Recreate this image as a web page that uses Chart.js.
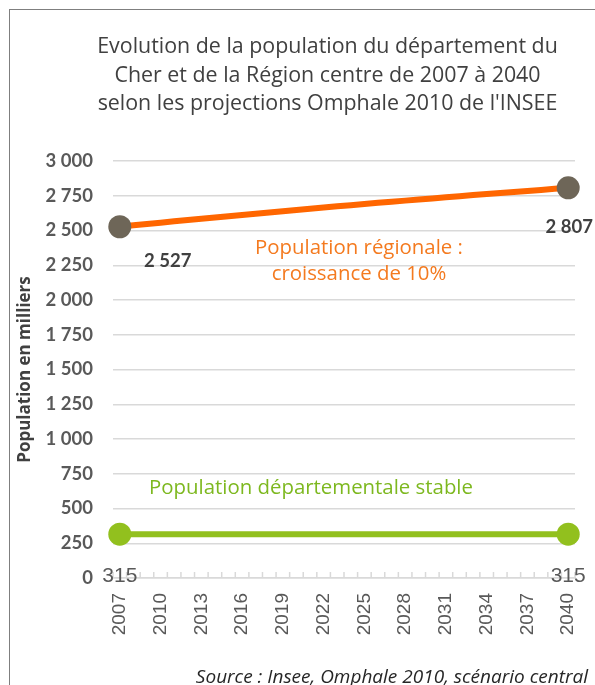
<!DOCTYPE html>
<html lang="fr">
<head>
<meta charset="utf-8">
<script src="https://cdn.jsdelivr.net/npm/chart.js@4.4.1/dist/chart.umd.min.js"></script>
<style>
  html, body { margin: 0; padding: 0; background: #fff; }
  #wrap { position: relative; width: 595px; height: 685px; overflow: hidden; }
  #frame { position: absolute; left: 9px; top: 9px; right: -5px; bottom: -5px;
           border-top: 1px solid #7f7f7f; border-left: 1px solid #7f7f7f; }
  canvas { position: absolute; left: 0; top: 0; }
  .txt { position: absolute; white-space: nowrap; font-family: "Open Sans", Lato, sans-serif; }
  #title { left: 60px; width: 535px; top: 31px; text-align: center; font-size: 21.4px; line-height: 28.5px; color: #404040; }
  #ann1 { left: 209px; width: 300px; top: 233px; text-align: center; font-size: 20.4px; line-height: 26px; color: #f47a1f; }
  #ann2 { left: 111px; width: 400px; top: 473px; text-align: center; font-size: 20.4px; line-height: 26px; color: #7db81f; }
  #source { right: 7px; top: 666px; font-size: 19px; line-height: 20px; font-style: italic; color: #262626; }
</style>
</head>
<body>
<div id="wrap">
  <div id="frame"></div>
  <canvas id="c" width="595" height="685"></canvas>
  <div class="txt" id="title">Evolution de la population du département du<br>Cher et de la Région centre de 2007 à 2040<br>selon les projections Omphale 2010 de l'INSEE</div>
  <div class="txt" id="ann1">Population régionale :<br>croissance de 10%</div>
  <div class="txt" id="ann2">Population départementale stable</div>
  <div class="txt" id="source">Source : Insee, Omphale 2010, scénario central</div>
</div>
<script>
const years = ["2007","2008","2009","2010","2011","2012","2013","2014","2015","2016","2017",
  "2018","2019","2020","2021","2022","2023","2024","2025","2026","2027","2028","2029",
  "2030","2031","2032","2033","2034","2035","2036","2037","2038","2039","2040"];
const regionValues = [2527,2537,2547,2556,2566,2575,2584,2593,2602,2611,2620,
  2630,2639,2648,2656,2665,2674,2682,2690,2699,2707,2715,2723,
  2731,2739,2747,2755,2762,2770,2777,2785,2792,2800,2807];
const departmentValues = [315,315,315,315,315,315,315,315,315,315,315,
  315,315,315,315,315,315,315,315,315,315,315,315,
  315,315,315,315,315,315,315,315,315,315,315];
const yAxisTitle = "Population en milliers";
const regionLabel = "Population régionale";
const departmentLabel = "Population départementale";

function fmt(v) { return String(v).replace(/\B(?=(\d{3})+(?!\d))/g, ' '); }
const lastIdx = years.length - 1;
const endRadius = ctx => (ctx.dataIndex === 0 || ctx.dataIndex === lastIdx) ? 11.5 : 0;
const boldFont = 'bold 18.5px Lato, sans-serif';

const tickMarks = {
  id: 'tickMarks',
  afterDatasetsDraw(chart) {
    const xs = chart.scales.x, ctx = chart.ctx;
    const step = xs.getPixelForValue(1) - xs.getPixelForValue(0);
    const y = xs.top;
    ctx.save();
    ctx.strokeStyle = '#d9d9d9';
    ctx.lineWidth = 1.5;
    for (let k = 0; k <= years.length; k++) {
      const x = xs.getPixelForValue(0) - step / 2 + k * step;
      ctx.beginPath(); ctx.moveTo(x, y - 6); ctx.lineTo(x, y); ctx.stroke();
    }
    ctx.restore();
  }
};

const dataLabels = {
  id: 'dataLabels',
  afterDraw(chart) {
    const ctx = chart.ctx;
    const m0 = chart.getDatasetMeta(0).data;
    const m1 = chart.getDatasetMeta(1).data;
    ctx.save();
    ctx.textAlign = 'center';
    ctx.textBaseline = 'middle';
    ctx.fillStyle = '#404040';
    ctx.font = boldFont;
    ctx.fillText(fmt(regionValues[0]), m0[0].x + 48, m0[0].y + 34);
    ctx.fillText(fmt(regionValues[lastIdx]), m0[lastIdx].x + 1, m0[lastIdx].y + 39);
    ctx.fillStyle = '#595959';
    ctx.font = '21px "Liberation Sans", Arial, sans-serif';
    ctx.fillText(fmt(departmentValues[0]), m1[0].x, m1[0].y + 42);
    ctx.fillText(fmt(departmentValues[lastIdx]), m1[lastIdx].x, m1[lastIdx].y + 42);
    ctx.restore();
  }
};

new Chart(document.getElementById('c'), {
  type: 'line',
  data: {
    labels: years,
    datasets: [
      { label: regionLabel, data: regionValues, borderColor: '#ff6600', borderWidth: 6,
        pointRadius: endRadius, pointHoverRadius: endRadius,
        pointBackgroundColor: '#6e6658', pointBorderColor: '#6e6658', pointBorderWidth: 0,
        tension: 0, borderCapStyle: 'round', borderJoinStyle: 'round' },
      { label: departmentLabel, data: departmentValues, borderColor: '#92c01e', borderWidth: 6,
        pointRadius: endRadius, pointHoverRadius: endRadius,
        pointBackgroundColor: '#92c01e', pointBorderColor: '#92c01e', pointBorderWidth: 0,
        tension: 0, borderCapStyle: 'round' }
    ]
  },
  options: {
    responsive: false,
    animation: false,
    events: [],
    layout: { padding: { left: 10, top: 161, right: 20, bottom: 0 } },
    plugins: { legend: { display: false }, tooltip: { enabled: false }, title: { display: false } },
    scales: {
      x: {
        offset: true,
        grid: { display: false, drawTicks: false },
        border: { display: true, color: '#d9d9d9', width: 1.5 },
        ticks: {
          autoSkip: false, minRotation: 90, maxRotation: 90, padding: 15,
          color: '#595959', font: { family: '"Liberation Sans", Arial, sans-serif', size: 19 },
          callback: function (v, i) { return (i % 3 === 0) ? years[i] : ''; }
        },
        afterFit(scale) { scale.height = 107; scale.paddingLeft = 0; scale.paddingRight = 0; }
      },
      y: {
        min: 0, max: 3000,
        grid: { color: '#d9d9d9', lineWidth: 1.5, drawTicks: false },
        border: { display: false },
        ticks: {
          stepSize: 250, padding: 20, color: '#595959',
          font: { family: 'Lato, sans-serif', size: 18.5, weight: 'bold' },
          callback: v => fmt(v)
        },
        title: { display: true, text: yAxisTitle, color: '#404040',
          font: { family: '"Open Sans", sans-serif', size: 17, weight: 'bold' },
          padding: { top: 5, bottom: 0 } },
        afterFit(scale) { scale.width = 103; }
      }
    }
  },
  plugins: [tickMarks, dataLabels]
});
</script>
</body>
</html>
